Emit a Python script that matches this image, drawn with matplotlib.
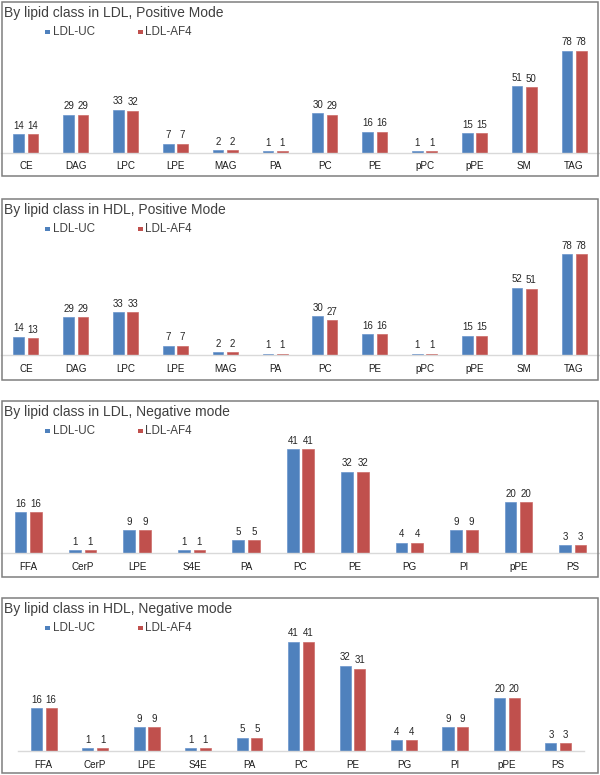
import matplotlib
matplotlib.use("Agg")
import matplotlib.pyplot as plt
from matplotlib.patches import Rectangle
import numpy as np

plt.rcParams['font.family'] = ['Liberation Sans', 'DejaVu Sans']

# ---------------- data ----------------
cats_pos = ['CE', 'DAG', 'LPC', 'LPE', 'MAG', 'PA', 'PC', 'PE', 'pPC', 'pPE', 'SM', 'TAG']
ldl_pos_uc = [14, 29, 33, 7, 2, 1, 30, 16, 1, 15, 51, 78]
ldl_pos_af4 = [14, 29, 32, 7, 2, 1, 29, 16, 1, 15, 50, 78]
hdl_pos_uc = [14, 29, 33, 7, 2, 1, 30, 16, 1, 15, 52, 78]
hdl_pos_af4 = [13, 29, 33, 7, 2, 1, 27, 16, 1, 15, 51, 78]

cats_neg = ['FFA', 'CerP', 'LPE', 'S4E', 'PA', 'PC', 'PE', 'PG', 'PI', 'pPE', 'PS']
ldl_neg_uc = [16, 1, 9, 1, 5, 41, 32, 4, 9, 20, 3]
ldl_neg_af4 = [16, 1, 9, 1, 5, 41, 32, 4, 9, 20, 3]
hdl_neg_uc = [16, 1, 9, 1, 5, 41, 32, 4, 9, 20, 3]
hdl_neg_af4 = [16, 1, 9, 1, 5, 41, 31, 4, 9, 20, 3]

series_names = ['LDL-UC', 'LDL-AF4']
titles = ['By lipid class in LDL, Positive Mode',
          'By lipid class in HDL, Positive Mode',
          'By lipid class in LDL, Negative mode',
          'By lipid class in HDL, Negative mode']

BLUE = '#4F81BD'
RED = '#C0504D'

W, H = 600, 775
fig = plt.figure(figsize=(W / 100, H / 100), dpi=100)


def fx(x):
    return x / W


def fy(y):
    return 1 - y / H


# layout per panel (pixels): border top, border bottom, baseline, px per unit, plot x0, x1
layouts = [
    dict(bt=2, bb=176, base=152.7, ppu=1.308, x0=1, x1=599),
    dict(bt=199, bb=380, base=355, ppu=1.295, x0=1, x1=599),
    dict(bt=401, bb=577, base=553, ppu=2.537, x0=1, x1=600),
    dict(bt=598, bb=773, base=751, ppu=2.66, x0=18, x1=584),
]

panels = [
    (cats_pos, ldl_pos_uc, ldl_pos_af4),
    (cats_pos, hdl_pos_uc, hdl_pos_af4),
    (cats_neg, ldl_neg_uc, ldl_neg_af4),
    (cats_neg, hdl_neg_uc, hdl_neg_af4),
]

for (cats, s1, s2), L, title in zip(panels, layouts, titles):
    # border
    fig.add_artist(Rectangle((fx(2), fy(L['bb'])), fx(596), (L['bb'] - L['bt']) / H,
                             transform=fig.transFigure, fill=False,
                             edgecolor='#7F7F7F', linewidth=1.1))
    # title
    fig.text(fx(4), fy(L['bt'] + 11), title, ha='left', va='center',
             fontsize=10, color='#404040')
    # legend (manual)
    ly = L['bt'] + 30
    for i, (name, col) in enumerate(zip(series_names, [BLUE, RED])):
        sx = 45 + 93 * i
        fig.add_artist(Rectangle((fx(sx), fy(ly + 2.3)), fx(4.6), 4.6 / H,
                                 transform=fig.transFigure, facecolor=col,
                                 edgecolor='none'))
        fig.text(fx(sx + 7.5), fy(ly), name, ha='left', va='center',
                 fontsize=8.4, color='#404040')

    # axes
    top = L['bt'] + 20
    ax = fig.add_axes([fx(L['x0']), fy(L['base']), (L['x1'] - L['x0']) / W,
                       (L['base'] - top) / H])
    ax.set_facecolor('none')
    n = len(cats)
    x = np.arange(n)
    off = 0.143
    bw = 0.215
    b1 = ax.bar(x - off, s1, width=bw, color=BLUE, edgecolor='#6A95CC', linewidth=0.5)
    b2 = ax.bar(x + off, s2, width=bw, color=RED, edgecolor='#CC6B68', linewidth=0.5)
    ax.bar_label(b1, padding=2.5, fontsize=7.0, color='#262626')
    ax.bar_label(b2, padding=2.5, fontsize=7.0, color='#262626')
    ax.set_xlim(-0.5, n - 0.5)
    ax.set_ylim(0, (L['base'] - top) / L['ppu'])
    ax.set_xticks(x)
    ax.set_xticklabels(cats, fontsize=7.1, color='#1a1a1a')
    ax.tick_params(axis='x', length=0, pad=6.2)
    ax.set_yticks([])
    for s in ['top', 'left', 'right']:
        ax.spines[s].set_visible(False)
    ax.spines['bottom'].set_color('#D9D9D9')
    ax.spines['bottom'].set_linewidth(1.0)

fig.savefig('out.png', dpi=100)
